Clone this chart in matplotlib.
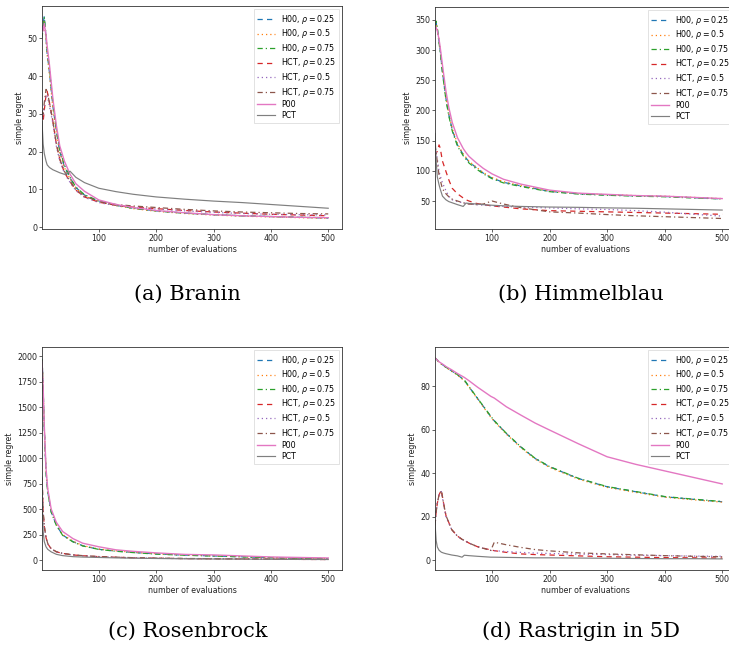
import matplotlib
matplotlib.use("Agg")
import matplotlib.pyplot as plt

# ---------------- data ----------------
labels = ["H00, $\\rho=0.25$", "H00, $\\rho=0.5$", "H00, $\\rho=0.75$",
          "HCT, $\\rho=0.25$", "HCT, $\\rho=0.5$", "HCT, $\\rho=0.75$",
          "P00", "PCT"]
captions = ["(a) Branin", "(b) Himmelblau", "(c) Rosenbrock", "(d) Rastrigin in 5D"]
xticks = [100, 200, 300, 400, 500]

# Branin
branin_x = [1, 3, 5, 8, 10, 14, 20, 26, 32, 40, 50, 60, 75, 100, 130, 160, 200, 250, 300, 350, 400, 450, 500]
branin_h00_025 = [52, 54, 55.9, 50, 46, 41, 32, 25.5, 20, 16, 13, 10.5, 8.5, 6.8, 5.8, 5.0, 4.3, 3.7, 3.3, 3.0, 2.8, 2.6, 2.4]
branin_h00_05 = [51, 53, 55, 49.5, 45.5, 40.5, 31.5, 25, 19.8, 15.8, 12.8, 10.3, 8.3, 6.7, 5.7, 4.9, 4.2, 3.6, 3.2, 2.9, 2.7, 2.5, 2.3]
branin_h00_075 = [50, 53, 55.5, 51, 47, 42, 33, 26, 20.5, 16.5, 13.2, 10.6, 8.6, 6.9, 5.8, 5.0, 4.3, 3.7, 3.3, 3.0, 2.8, 2.6, 2.5]
branin_hct_025 = [30, 28, 31, 35, 36, 33, 28, 22, 18, 14.5, 12, 9.8, 8.0, 6.6, 5.8, 5.3, 4.9, 4.4, 4.0, 3.7, 3.4, 3.2, 3.0]
branin_hct_05 = [29, 29, 32, 35, 35, 32, 27.5, 21.5, 17.5, 14.3, 11.8, 9.7, 7.9, 6.5, 5.7, 5.2, 4.8, 4.3, 3.9, 3.6, 3.4, 3.3, 3.2]
branin_hct_075 = [31, 30, 33, 36.5, 36, 33, 28, 22, 18, 14.8, 12.2, 10, 8.2, 6.8, 6.0, 5.6, 5.2, 4.7, 4.3, 4.0, 3.8, 3.6, 3.5]
branin_p00 = [53, 52, 54, 51, 48, 43, 34, 27, 21.5, 17.5, 14, 11.5, 9.5, 7.2, 6.0, 5.2, 4.4, 3.8, 3.3, 3.0, 2.8, 2.6, 2.5]
branin_pct = [28, 22, 19.5, 17.5, 16.5, 15.8, 15.2, 14.8, 14.4, 14.0, 14.8, 13.2, 11.8, 10.3, 9.4, 8.7, 8.0, 7.4, 6.9, 6.5, 6.0, 5.5, 5.0]

# Himmelblau
himmel_x = [1, 3, 5, 8, 10, 14, 20, 25, 31, 40, 50, 55, 60, 73, 85, 100, 120, 150, 200, 250, 300, 350, 400, 450, 500]
himmel_h00_025 = [340, 345, 335, 314, 300, 264, 220, 193, 168, 143, 127, 121, 115, 105, 96, 88, 81, 75, 66, 62, 60, 58.5, 57.5, 55.5, 53.5]
himmel_h00_05 = [338, 343, 336, 316, 302, 266, 222, 195, 170, 145, 128, 122, 116, 106, 97, 89, 82, 75.5, 66.5, 62.5, 60.5, 59, 58, 56, 54]
himmel_h00_075 = [342, 348, 338, 312, 298, 262, 218, 191, 166, 141, 125, 119, 113, 103, 95, 87, 80, 74, 65.5, 61.5, 59.5, 58, 57, 55, 53.5]
himmel_hct_025 = [125, 130, 132, 143, 138, 116, 99, 85, 71, 62, 55, 52, 50, 46, 44, 42, 40, 37, 34, 33, 32, 31, 30, 29, 28]
himmel_hct_05 = [138, 130, 120, 99, 92, 80, 67, 58, 52, 49, 47, 46, 45, 44, 43, 42, 41, 40, 38.5, 37, 36, 34, 31.5, 28, 25]
himmel_hct_075 = [143, 130, 115, 93, 85, 70, 62, 57, 53, 50, 47, 46, 45, 44, 45, 50, 45, 39, 32, 30, 27.5, 25.5, 24, 22.5, 21]
himmel_p00 = [335, 338, 332, 318, 305, 275, 232, 205, 180, 155, 137, 130, 124, 113, 104, 95, 86, 78, 68, 63, 61, 59, 58, 56, 54]
himmel_pct = [162, 116, 90, 77, 70, 58, 52, 49, 47, 44, 41, 46.5, 46, 45, 44, 43, 42, 41, 40, 39.5, 38.6, 38, 37, 36, 35]

# Rosenbrock
rosen_x = [1, 2, 3, 5, 8, 11, 17, 26, 37, 55, 72, 100, 130, 160, 200, 250, 300, 350, 400, 450, 500]
rosen_h00_025 = [1977, 1850, 1683, 1290, 866, 670, 474, 343, 245, 180, 140, 105, 88, 75, 60, 48, 40, 32, 23, 18, 13]
rosen_h00_05 = [1960, 1840, 1690, 1300, 880, 680, 485, 350, 250, 185, 142, 108, 90, 76, 62, 50, 42, 33, 25, 20, 15]
rosen_h00_075 = [1970, 1860, 1670, 1280, 860, 665, 470, 340, 242, 178, 138, 104, 86, 73, 58, 47, 39, 31, 22, 17, 12]
rosen_hct_025 = [800, 650, 474, 330, 220, 160, 110, 80, 65, 50, 42, 33, 27, 22, 18, 14, 12, 10, 8, 6, 5]
rosen_hct_05 = [780, 640, 465, 325, 215, 158, 108, 79, 64, 49, 41, 32, 26, 21, 17, 14, 12, 10, 8, 6, 5]
rosen_hct_075 = [810, 660, 480, 335, 225, 163, 112, 82, 66, 51, 43, 34, 28, 23, 19, 15, 13, 11, 9, 7, 6]
rosen_p00 = [1950, 1830, 1700, 1320, 900, 700, 500, 370, 280, 210, 165, 130, 100, 85, 70, 55, 50, 40, 30, 25, 20]
rosen_pct = [815, 450, 280, 180, 130, 105, 80, 56, 43, 33, 29, 25, 21, 18, 15, 12, 10, 9, 7, 6, 5]

# Rastrigin in 5D
rastr_x = [1, 3, 5, 8, 12, 16, 20, 30, 40, 48, 52, 60, 75, 98, 104, 125, 150, 175, 200, 250, 300, 350, 400, 450, 500]
rastr_h00_025 = [93, 92.5, 92, 91, 90.2, 89.5, 88.7, 87, 85.3, 83.5, 82.7, 79.7, 74.3, 66, 64, 58.2, 52, 46.7, 42.9, 37.5, 33.7, 31.4, 29.1, 27.9, 26.8]
rastr_h00_05 = [93, 92.4, 91.9, 90.9, 90.1, 89.4, 88.6, 86.8, 85.1, 83.3, 82.5, 79.5, 74.0, 65.7, 63.7, 57.9, 51.7, 46.4, 42.6, 37.2, 33.4, 31.1, 28.9, 27.7, 26.6]
rastr_h00_075 = [93, 92.5, 92, 91, 90.2, 89.5, 88.7, 87, 85.3, 83.6, 82.8, 79.8, 74.4, 66.1, 64.1, 58.3, 52.1, 46.8, 43.0, 37.6, 33.8, 31.5, 29.2, 28.0, 26.9]
rastr_hct_025 = [16, 22, 26, 30, 32, 26, 20.5, 14, 11, 9.5, 9.0, 7.8, 6.1, 4.6, 4.3, 3.5, 2.8, 2.5, 2.3, 1.9, 1.5, 1.3, 1.1, 1.0, 0.9]
rastr_hct_05 = [16, 22, 26, 30, 31.5, 25.5, 20, 14, 11, 9.5, 9.0, 7.8, 6.1, 4.4, 4.3, 3.9, 3.5, 3.2, 3.0, 2.7, 2.5, 2.2, 2.0, 1.8, 1.7]
rastr_hct_075 = [16, 22, 26, 30, 32, 26, 20.5, 14, 11, 9.5, 9.0, 7.8, 6.1, 4.4, 8.2, 7.0, 5.8, 4.8, 4.2, 3.3, 2.8, 2.4, 2.0, 1.7, 1.5]
rastr_p00 = [93, 92.5, 92, 91.2, 90.5, 89.8, 89, 87.5, 85.8, 84.6, 84, 82.5, 79.5, 75.3, 74.5, 70.5, 66.7, 63, 59.8, 53.5, 47.5, 44, 41, 38, 35]
rastr_pct = [17, 9, 6, 4.5, 3.6, 3.2, 2.9, 2.3, 1.9, 1.3, 2.2, 2.0, 1.7, 1.3, 1.3, 1.2, 1.1, 1.0, 1.0, 0.9, 0.8, 0.7, 0.6, 0.6, 0.5]

# ---------------- styling ----------------
colors = ["#1f77b4", "#ff7f0e", "#2ca02c", "#d62728", "#9467bd", "#8c564b", "#e377c2", "#7f7f7f"]
dashed = (0, (4.2, 3.4))
dotted = (0, (1.0, 2.4))
dashdot = (0, (4.2, 2.4, 1.0, 2.4))
styles = [dashed, dotted, dashdot, dashed, dotted, dashdot, "-", "-"]
widths = [0.9, 0.9, 0.9, 0.9, 0.9, 0.9, 1.0, 0.85]

panels = [
    (branin_x, [branin_h00_025, branin_h00_05, branin_h00_075, branin_hct_025,
                branin_hct_05, branin_hct_075, branin_p00, branin_pct], (-0.5, 58.6), [0, 10, 20, 30, 40, 50]),
    (himmel_x, [himmel_h00_025, himmel_h00_05, himmel_h00_075, himmel_hct_025,
                himmel_hct_05, himmel_hct_075, himmel_p00, himmel_pct], (3.6, 371.5), [50, 100, 150, 200, 250, 300, 350]),
    (rosen_x, [rosen_h00_025, rosen_h00_05, rosen_h00_075, rosen_hct_025,
               rosen_hct_05, rosen_hct_075, rosen_p00, rosen_pct], (-98, 2091), [0, 250, 500, 750, 1000, 1250, 1500, 1750, 2000]),
    (rastr_x, [rastr_h00_025, rastr_h00_05, rastr_h00_075, rastr_hct_025,
               rastr_hct_05, rastr_hct_075, rastr_p00, rastr_pct], (-4.6, 98), [0, 20, 40, 60, 80]),
]

W, H = 729, 650
fig = plt.figure(figsize=(W / 100, H / 100), dpi=100)

# axes rectangles in pixels: left, right, top, bottom
rects = [(42, 342, 6, 229), (435, 736, 7, 229), (42, 342, 347, 570), (435, 736, 347, 570)]
cap_pos = [(187, 300), (581, 300), (188, 637), (581, 637)]

fs = 5.7
for (xv, series, ylim, yt), (l, r, t, b), cap, (cx, cy) in zip(panels, rects, captions, cap_pos):
    ax = fig.add_axes([l / W, 1 - b / H, (r - l) / W, (b - t) / H])
    for vals, lab, c, ls, lw in zip(series, labels, colors, styles, widths):
        ax.plot(xv, vals, linestyle=ls, color=c, lw=lw, label=lab)
    ax.set_xlim(1, 524)
    ax.set_ylim(*ylim)
    ax.set_xticks(xticks)
    ax.set_yticks(yt)
    ax.tick_params(labelsize=fs, length=2, width=0.5, pad=1.5, colors="#222222")
    for s in ax.spines.values():
        s.set_linewidth(0.6)
        s.set_color("#333333")
    ax.set_xlabel("number of evaluations", fontsize=fs, labelpad=1.5, color="#222222")
    ax.set_ylabel("simple regret", fontsize=fs, labelpad=2, color="#222222")
    leg = ax.legend(loc="upper right", fontsize=fs, handlelength=2.2, borderpad=0.45,
                    labelspacing=0.2, handletextpad=0.8, fancybox=False, framealpha=0.8,
                    borderaxespad=0.4)
    leg.get_frame().set_linewidth(0.5)
    fig.text(cx / W, 1 - cy / H, cap, ha="center", va="baseline",
             fontsize=15, family="DejaVu Serif")

fig.savefig("out.png", dpi=100)
